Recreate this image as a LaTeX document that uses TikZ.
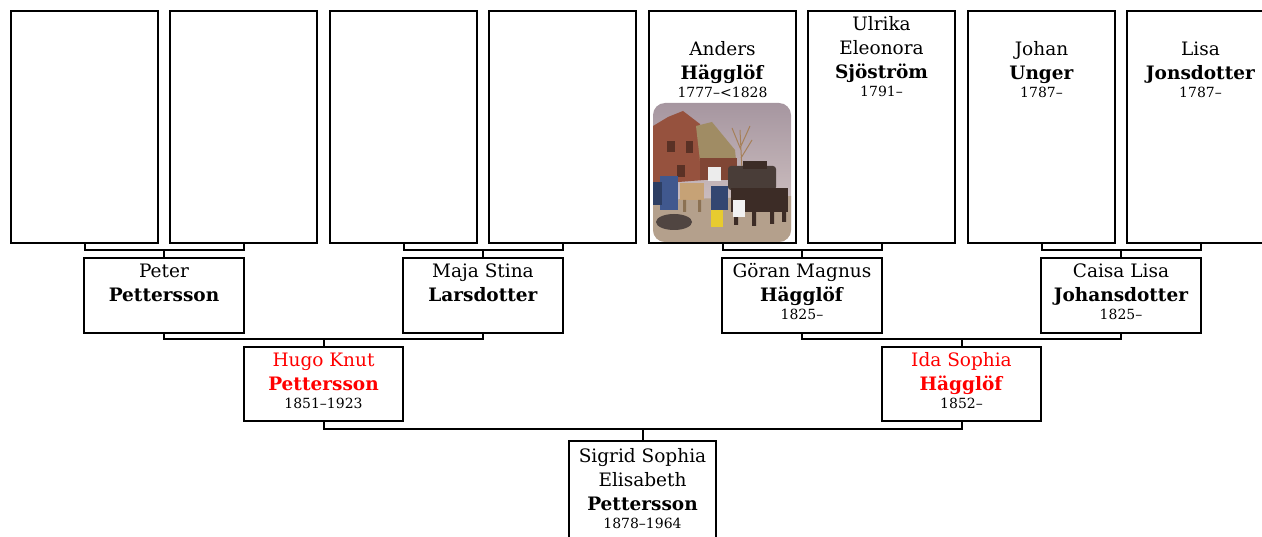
\documentclass[tikz,border=0pt]{standalone}
\usepackage{fontspec}
\setmainfont{DejaVu Serif}
\newcommand{\yrs}[1]{{\fontsize{14}{18}\selectfont #1}}
\definecolor{skytop}{RGB}{166,150,160}
\definecolor{skylow}{RGB}{218,204,202}
\definecolor{brick}{RGB}{150,82,62}
\definecolor{thatch}{RGB}{160,140,100}
\definecolor{ground}{RGB}{180,160,140}
\definecolor{coat}{RGB}{64,88,142}
\definecolor{horse}{RGB}{60,44,38}
\definecolor{hide}{RGB}{198,162,118}
\begin{document}
\begin{tikzpicture}[x=1pt,y=1pt,yscale=-1,xscale=1,
  box/.style={draw, line width=2pt, inner sep=0pt, outer sep=0pt},
  link/.style={line width=2pt},
  who/.style={align=center, inner sep=0pt, font=\fontsize{18.5}{24}\selectfont}]
\useasboundingbox (0,0) rectangle (1262,537);
%Shape: Rectangle (great-grandparents)
\node[box, minimum width=147, minimum height=232] (ggp1) at (84.5,127) {};
\node[box, minimum width=147, minimum height=232] (ggp2) at (243.5,127) {};
\node[box, minimum width=147, minimum height=232] (ggp3) at (403.5,127) {};
\node[box, minimum width=147, minimum height=232] (ggp4) at (562.5,127) {};
\node[box, minimum width=147, minimum height=232] (anders) at (722.5,127) {};
\node[box, minimum width=147, minimum height=232] (ulrika) at (881.5,127) {};
\node[box, minimum width=147, minimum height=232] (johan) at (1041.5,127) {};
\node[box, minimum width=147, minimum height=232] (lisa) at (1200.5,127) {};
%Shape: Rectangle (grandparents)
\node[box, minimum width=160, minimum height=75] (peter) at (164,295.5) {};
\node[box, minimum width=160, minimum height=75] (maja) at (483,295.5) {};
\node[box, minimum width=160, minimum height=75] (goran) at (802,295.5) {};
\node[box, minimum width=160, minimum height=75] (caisa) at (1121,295.5) {};
%Shape: Rectangle (parents)
\node[box, minimum width=159, minimum height=74] (hugo) at (323.5,384) {};
\node[box, minimum width=159, minimum height=74] (ida) at (961.5,384) {};
%Shape: Rectangle (child)
\node[box, minimum width=147, minimum height=120] (sigrid) at (642.5,501.5) {};
%Straight Lines
\draw[link] (ggp1.south) |- ([yshift=-7.5pt]peter.north) -| (ggp2.south);
\draw[link] (peter.north) -- ([yshift=-7.5pt]peter.north);
\draw[link] (ggp3.south) |- ([yshift=-7.5pt]maja.north) -| (ggp4.south);
\draw[link] (maja.north) -- ([yshift=-7.5pt]maja.north);
\draw[link] (anders.south) |- ([yshift=-7.5pt]goran.north) -| (ulrika.south);
\draw[link] (goran.north) -- ([yshift=-7.5pt]goran.north);
\draw[link] (johan.south) |- ([yshift=-7.5pt]caisa.north) -| (lisa.south);
\draw[link] (caisa.north) -- ([yshift=-7.5pt]caisa.north);
\draw[link] (peter.south) |- ([yshift=-7.5pt]hugo.north) -| (maja.south);
\draw[link] (hugo.north) -- ([yshift=-7.5pt]hugo.north);
\draw[link] (goran.south) |- ([yshift=-7.5pt]ida.north) -| (caisa.south);
\draw[link] (ida.north) -- ([yshift=-7.5pt]ida.north);
\draw[link] (hugo.south) |- ([yshift=-12.5pt]sigrid.north) -| (ida.south);
\draw[link] (sigrid.north) -- ([yshift=-12.5pt]sigrid.north);
%Image: painting
\begin{scope}
\clip[rounded corners=12] (653,103) rectangle (791,242);
\shade[top color=skytop, bottom color=skylow] (653,103) rectangle (791,242);
\fill[ground] (653,200) -- (791,196) -- (791,242) -- (653,242) -- cycle;
\fill[brick] (653,126) -- (668,117) -- (683,111) -- (700,124) -- (704,180) -- (653,184) -- cycle;
\fill[thatch] (696,126) -- (712,122) -- (735,150) -- (736,160) -- (700,161) -- cycle;
\fill[brick!85!black] (700,158) rectangle (737,180);
\fill[brick!60!black] (667,141) rectangle (675,152);
\fill[brick!60!black] (686,141) rectangle (693,153);
\fill[brick!60!black] (677,165) rectangle (685,177);
\draw[brown!60!gray, line width=1pt] (742,170) -- (740,130) (741,150) -- (732,128) (741,146) -- (750,126) (741,158) -- (752,140);
\fill[horse!80!gray, rounded corners=3] (728,166) rectangle (776,190);
\fill[horse] (743,161) rectangle (767,169);
\fill[coat] (660,176) rectangle (678,210);
\fill[coat!70!black] (653,182) rectangle (662,205);
\fill[hide] (680,183) rectangle (704,200);
\fill[hide!70!black] (683,200) rectangle (686,212) (698,200) rectangle (701,212);
\fill[white!85!gray] (708,167) rectangle (721,181);
\fill[coat!80!black] (711,186) rectangle (728,210);
\fill[yellow!60!brown] (711,210) rectangle (723,227);
\fill[horse] (731,188) rectangle (788,212);
\fill[horse] (734,212) rectangle (738,225) (752,212) rectangle (756,226) (770,212) rectangle (774,224) (782,212) rectangle (786,222);
\fill[white!90!gray] (733,200) rectangle (745,217);
\fill[horse!70!gray] (674,222) ellipse (18 and 8);
\end{scope}
% Text Node
\node[who, anchor=north] (andersT) at ([yshift=27.7pt]anders.north) {\strut Anders\\\textbf{Hägglöf}\\[-6pt]\yrs{1777–<1828}};
% Text Node
\node[who, anchor=north] (ulrikaT) at ([yshift=2.2pt]ulrika.north) {\strut Ulrika\\Eleonora\\\textbf{Sjöström}\\[-6pt]\yrs{1791–}};
% Text Node
\node[who, anchor=north] (johanT) at ([yshift=27.7pt]johan.north) {\strut Johan\\\textbf{Unger}\\[-6pt]\yrs{1787–}};
% Text Node
\node[who, anchor=north] (lisaT) at ([yshift=27.7pt]lisa.north) {\strut Lisa\\\textbf{Jonsdotter}\\[-6pt]\yrs{1787–}};
% Text Node
\node[who, anchor=north] (peterT) at ([yshift=3pt]peter.north) {\strut Peter\\\textbf{Pettersson}};
% Text Node
\node[who, anchor=north] (majaT) at ([yshift=3pt]maja.north) {\strut Maja Stina\\\textbf{Larsdotter}};
% Text Node
\node[who, anchor=north] (goranT) at ([yshift=3pt]goran.north) {\strut Göran Magnus\\\textbf{Hägglöf}\\[-6pt]\yrs{1825–}};
% Text Node
\node[who, anchor=north] (caisaT) at ([yshift=3pt]caisa.north) {\strut Caisa Lisa\\\textbf{Johansdotter}\\[-6pt]\yrs{1825–}};
% Text Node
\node[who, anchor=north] (hugoT) at ([yshift=3pt]hugo.north) {\strut\textcolor{red}{Hugo Knut}\\\textcolor{red}{\textbf{Pettersson}}\\[-6pt]\yrs{1851–1923}};
% Text Node
\node[who, anchor=north] (idaT) at ([yshift=3pt]ida.north) {\strut\textcolor{red}{Ida Sophia}\\\textcolor{red}{\textbf{Hägglöf}}\\[-6pt]\yrs{1852–}};
% Text Node
\node[who, anchor=north] (sigridT) at ([yshift=3.5pt]sigrid.north) {\strut Sigrid Sophia\\Elisabeth\\\textbf{Pettersson}\\[-6pt]\yrs{1878–1964}};
\end{tikzpicture}
\end{document}
